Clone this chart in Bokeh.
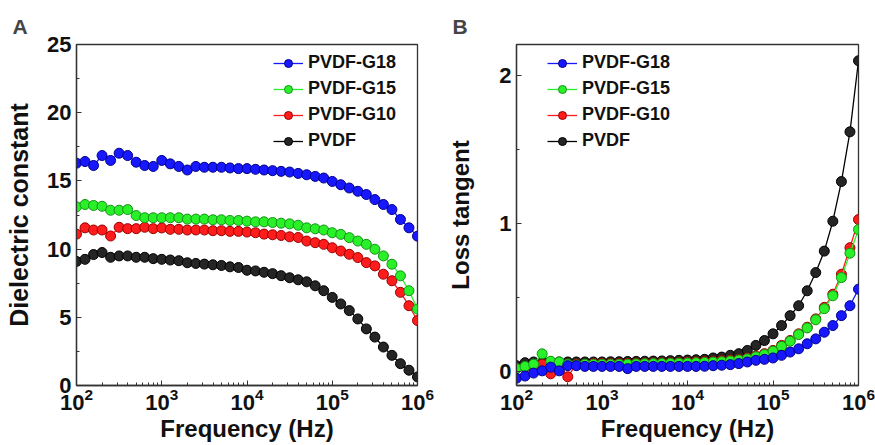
from bokeh.plotting import figure
from bokeh.models import (Range1d, FixedTicker, LogTickFormatter, Legend, LegendItem)
from bokeh.layouts import row
from bokeh.embed import file_html
from bokeh.resources import INLINE

# ---------------- data ----------------
freq = [100, 125.9, 158.5, 199.5, 251.2, 316.2, 398.1, 501.2, 631.0, 794.3,
        1000, 1259, 1585, 1995, 2512, 3162, 3981, 5012, 6310, 7943,
        10000, 12589, 15849, 19953, 25119, 31623, 39811, 50119, 63096, 79433,
        100000, 125893, 158489, 199526, 251189, 316228, 398107, 501187, 630957, 794328,
        1000000]

series_names = ["PVDF-G18", "PVDF-G15", "PVDF-G10", "PVDF"]

# Panel A: dielectric constant
eps_g18 = [16.3, 16.42, 16.13, 16.86, 16.5, 17.03, 16.86, 16.37, 16.13, 16.06,
           16.5, 16.25, 16.06, 15.8, 16.06, 16.0, 16.0, 16.0, 15.95, 15.9,
           15.9, 15.85, 15.8, 15.75, 15.7, 15.65, 15.55, 15.45, 15.33, 15.21,
           14.96, 14.72, 14.48, 14.24, 14.0, 13.63, 13.27, 12.9, 12.17, 11.56,
           10.95]
eps_g15 = [13.1, 13.27, 13.2, 13.14, 12.85, 12.85, 12.9, 12.46, 12.3, 12.3,
           12.3, 12.3, 12.3, 12.2, 12.2, 12.2, 12.15, 12.15, 12.1, 12.1,
           12.05, 12.0, 12.0, 11.95, 11.9, 11.85, 11.75, 11.56, 11.49, 11.4,
           11.2, 11.08, 10.84, 10.59, 10.35, 9.99, 9.5, 8.89, 8.04, 6.95,
           5.61]
eps_g10 = [11.1, 11.56, 11.4, 11.4, 10.96, 11.6, 11.5, 11.5, 11.6, 11.5,
           11.55, 11.45, 11.45, 11.4, 11.4, 11.4, 11.35, 11.35, 11.3, 11.3,
           11.25, 11.2, 11.1, 11.05, 11.0, 10.9, 10.85, 10.59, 10.47, 10.35,
           10.1, 9.86, 9.62, 9.38, 9.01, 8.77, 8.16, 7.68, 6.83, 5.85,
           4.76]
eps_pvdf = [9.1, 9.25, 9.6, 9.75, 9.4, 9.5, 9.5, 9.4, 9.4, 9.3,
            9.25, 9.2, 9.15, 9.0, 8.95, 8.9, 8.85, 8.8, 8.7, 8.65,
            8.45, 8.4, 8.3, 8.2, 8.05, 7.9, 7.75, 7.6, 7.31, 6.95,
            6.46, 5.98, 5.49, 4.88, 4.15, 3.55, 2.82, 2.21, 1.6, 1.12,
            0.63]

# Panel B: loss tangent
tan_g18 = [-0.045, -0.03, -0.01, 0.005, 0.03, 0.005, 0.04, 0.04, 0.035, 0.035,
           0.035, 0.035, 0.035, 0.02, 0.035, 0.035, 0.035, 0.035, 0.035, 0.035,
           0.035, 0.035, 0.036, 0.04, 0.043, 0.047, 0.054, 0.065, 0.076, 0.083,
           0.092, 0.11, 0.132, 0.154, 0.188, 0.221, 0.266, 0.311, 0.378, 0.445,
           0.557]
tan_g15 = [0.02, 0.035, 0.05, 0.12, 0.07, 0.065, 0.05, 0.045, 0.05, 0.05,
           0.05, 0.05, 0.05, 0.05, 0.052, 0.053, 0.054, 0.055, 0.056, 0.057,
           0.058, 0.06, 0.062, 0.064, 0.067, 0.072, 0.078, 0.086, 0.1, 0.115,
           0.138, 0.17, 0.205, 0.25, 0.295, 0.35, 0.425, 0.512, 0.635, 0.80,
           0.96]
tan_g10 = [0.02, 0.03, 0.04, 0.05, -0.015, 0.05, -0.035, 0.05, 0.05, 0.055,
           0.055, 0.055, 0.055, 0.055, 0.056, 0.057, 0.058, 0.059, 0.06, 0.062,
           0.064, 0.066, 0.068, 0.07, 0.074, 0.078, 0.083, 0.092, 0.105, 0.121,
           0.143, 0.177, 0.21, 0.255, 0.30, 0.356, 0.434, 0.523, 0.658, 0.837,
           1.027]
tan_pvdf = [0.04, 0.06, 0.065, 0.065, 0.065, 0.065, 0.065, 0.065, 0.065, 0.065,
            0.065, 0.066, 0.067, 0.068, 0.069, 0.07, 0.071, 0.072, 0.074, 0.076,
            0.078, 0.08, 0.083, 0.092, 0.098, 0.11, 0.121, 0.143, 0.177, 0.21,
            0.255, 0.311, 0.378, 0.445, 0.546, 0.669, 0.814, 1.016, 1.284, 1.62,
            2.10]

x_major = [1e2, 1e3, 1e4, 1e5, 1e6]
x_minor = [m * d for d in [1e2, 1e3, 1e4, 1e5] for m in range(2, 10)]
a_major = [0, 5, 10, 15, 20, 25]
a_minor = [2.5, 7.5, 12.5, 17.5, 22.5]
b_major = [0, 1, 2]
b_minor = [0.5, 1.5]

colors = {"PVDF-G18": ("#1818ff", "#00008a"),
          "PVDF-G15": ("#2af02a", "#129412"),
          "PVDF-G10": ("#ff1c1c", "#9a0000"),
          "PVDF": ("#252525", "#000000")}

FONT = "Liberation Sans"


def style(p, letter, ylabel, ylabel_size, ylabel_standoff, yticks, yminor):
    p.title.text = letter
    p.title.text_font = FONT
    p.title.text_font_size = "21px"
    p.title.text_font_style = "bold"
    p.title.align = "left"
    p.title.offset = -64
    p.title.standoff = 14
    p.outline_line_color = "#333333"
    p.outline_line_width = 1.3
    p.xgrid.visible = False
    p.ygrid.visible = False
    p.xaxis.ticker = FixedTicker(ticks=x_major, minor_ticks=x_minor)
    p.xaxis.formatter = LogTickFormatter()
    p.yaxis.ticker = FixedTicker(ticks=yticks, minor_ticks=yminor)
    p.xaxis.axis_label = "Frequency (Hz)"
    p.yaxis.axis_label = ylabel
    for ax in (p.xaxis[0], p.yaxis[0]):
        ax.axis_line_color = "#333333"
        ax.axis_line_width = 1.3
        ax.major_tick_in = 5
        ax.major_tick_out = 0
        ax.minor_tick_in = 3
        ax.minor_tick_out = 0
        ax.major_tick_line_color = "#333333"
        ax.minor_tick_line_color = "#333333"
        ax.major_label_text_font = FONT
        ax.major_label_text_font_style = "bold"
        ax.major_label_text_font_size = "22px"
        ax.major_label_text_color = "#111111"
        ax.axis_label_text_font = FONT
        ax.axis_label_text_font_style = "bold"
        ax.axis_label_text_color = "#111111"
    p.xaxis.axis_label_text_font_size = "24px"
    p.yaxis.axis_label_text_font_size = ylabel_size
    p.xaxis.major_label_standoff = 2
    p.xaxis.axis_label_standoff = 2
    p.yaxis.major_label_standoff = 5
    p.yaxis.axis_label_standoff = ylabel_standoff


def draw(p, data, order):
    items = {}
    for name in order:
        fill, edge = colors[name]
        ln = p.line(freq, data[name], line_color=edge if name == "PVDF" else fill, line_width=1.3)
        sc = p.scatter(freq, data[name], size=10, fill_color=fill, line_color=edge, line_width=1)
        items[name] = [ln, sc]
    return [LegendItem(label=n, renderers=items[n]) for n in series_names]


def add_legend(p, items, loc):
    lg = Legend(items=items, location=loc, padding=0, margin=0, spacing=5,
                glyph_width=30, glyph_height=20, label_height=20, label_standoff=5,
                label_text_font=FONT, label_text_font_style="bold",
                label_text_font_size="18px", label_text_color="#111111",
                background_fill_alpha=0, border_line_alpha=0)
    p.add_layout(lg, "center")


H = 444

# ---------------- Panel A ----------------
pa = figure(width=440, height=H, x_axis_type="log",
            x_range=Range1d(1e2, 1e6), y_range=Range1d(0, 25),
            output_backend="svg", toolbar_location=None,
            min_border_left=76, min_border_right=23, min_border_top=44, min_border_bottom=0)
style(pa, "A", "Dielectric constant", "25px", 11, a_major, a_minor)
data_a = {"PVDF-G18": eps_g18, "PVDF-G15": eps_g15, "PVDF-G10": eps_g10, "PVDF": eps_pvdf}
items_a = draw(pa, data_a, ["PVDF", "PVDF-G10", "PVDF-G15", "PVDF-G18"])
add_legend(pa, items_a, (197, 234))

# ---------------- Panel B ----------------
pb = figure(width=435, height=H, x_axis_type="log",
            x_range=Range1d(1e2, 1e6), y_range=Range1d(-0.094, 2.21),
            output_backend="svg", toolbar_location=None,
            min_border_left=76, min_border_right=17, min_border_top=44, min_border_bottom=0)
style(pb, "B", "Loss tangent", "24px", 22, b_major, b_minor)
data_b = {"PVDF-G18": tan_g18, "PVDF-G15": tan_g15, "PVDF-G10": tan_g10, "PVDF": tan_pvdf}
items_b = draw(pb, data_b, ["PVDF", "PVDF-G10", "PVDF-G15", "PVDF-G18"])
add_legend(pb, items_b, (31, 234))

layout = row(pa, pb)
open("out.html", "w").write(file_html(layout, INLINE))
